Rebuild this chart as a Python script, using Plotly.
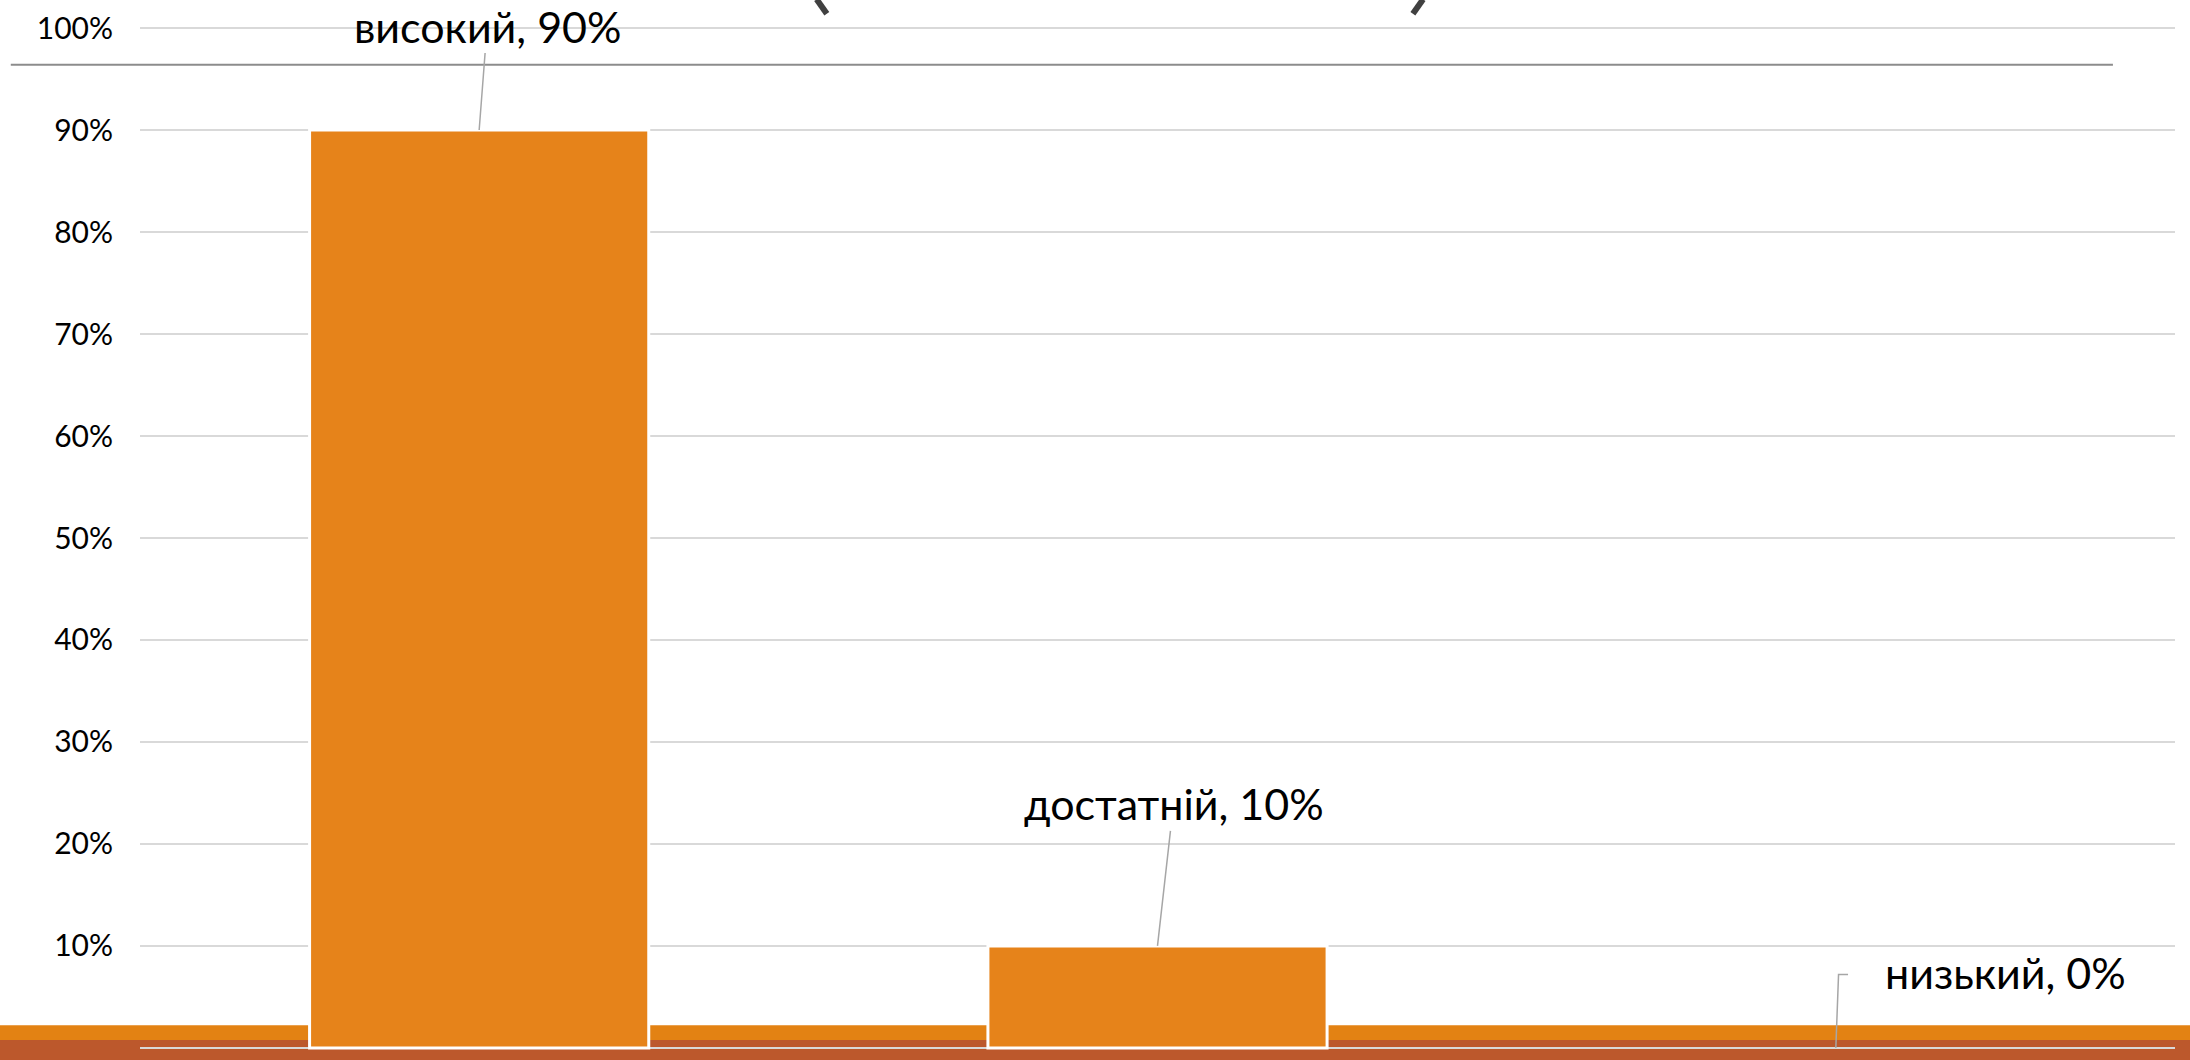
import plotly.graph_objects as go

categories = ["високий", "достатній", "низький"]
values = [0.90, 0.10, 0.00]
tick_vals = [0, 0.1, 0.2, 0.3, 0.4, 0.5, 0.6, 0.7, 0.8, 0.9, 1.0]
tick_text = ["0%", "10%", "20%", "30%", "40%", "50%", "60%", "70%", "80%", "90%", "100%"]

BAR = "#E6831A"
BAND_ORANGE = "#E38213"
BAND_RUST = "#BC582C"
FONT = "Lato"

fig = go.Figure()
fig.add_trace(go.Bar(
    x=categories, y=values,
    marker=dict(color=BAR,
                line=dict(color="white", width=[3 if v > 0 else 0 for v in values])),
    hoverinfo="skip",
))

labels = [f"{c}, {round(v*100)}%" for c, v in zip(categories, values)]

# leader lines + labels for first two bars
offsets = [(8, -104), (16, -142)]
for i in range(2):
    fig.add_annotation(
        x=categories[i], y=values[i], xref="x", yref="y",
        text=labels[i], showarrow=True, arrowhead=0, arrowwidth=1.5,
        arrowcolor="#A6A6A6", ax=offsets[i][0], ay=offsets[i][1],
        font=dict(family=FONT, size=43, color="black"),
    )

# third label with elbow leader
fig.add_annotation(
    x=2, y=values[2], xref="x", yref="y", text=labels[2], showarrow=False,
    xshift=170, yshift=75, font=dict(family=FONT, size=43, color="black"),
)
fig.add_shape(type="path", xref="x", yref="y",
              path=f"M 2,{values[2]} L 2.004,{values[2]+0.072} L 2.018,{values[2]+0.072}",
              line=dict(color="#A6A6A6", width=1.5), layer="above")

# bottom decorative bands (paper coords)
fig.add_shape(type="rect", xref="paper", yref="paper", x0=-0.1, x1=1.1,
              y0=-0.02, y1=0.0252, fillcolor=BAND_ORANGE, line_width=0, layer="below")
fig.add_shape(type="rect", xref="paper", yref="paper", x0=-0.1, x1=1.1,
              y0=-0.03, y1=0.0107, fillcolor=BAND_RUST, line_width=0, layer="below")

# horizontal rule near top
fig.add_shape(type="line", xref="paper", yref="paper", x0=-0.0635, x1=0.9695,
              y0=0.9612, y1=0.9612, line=dict(color="#8C8C8C", width=2), layer="above")

# fragments of cut-off title glyphs at the top
fig.add_shape(type="line", xref="paper", yref="paper", x0=0.3325, x1=0.3375,
              y0=1.025, y1=1.011, line=dict(color="#404040", width=6))
fig.add_shape(type="line", xref="paper", yref="paper", x0=0.6305, x1=0.6255,
              y0=1.025, y1=1.011, line=dict(color="#404040", width=6))

fig.update_layout(
    width=2190, height=1060,
    margin=dict(l=140, r=15, t=20, b=9),
    paper_bgcolor="white", plot_bgcolor="rgba(0,0,0,0)",
    bargap=0.5, showlegend=False,
    xaxis=dict(showticklabels=False, showgrid=False, zeroline=False, showline=False),
    yaxis=dict(range=[-0.003, 1.003], tickvals=tick_vals, ticktext=tick_text,
               showgrid=True, gridcolor="#D9D9D9", gridwidth=2, zeroline=False,
               showline=False, ticks="", ticklabelstandoff=26,
               tickfont=dict(family=FONT, size=30, color="black")),
)

fig.write_html("out.html", config={"displayModeBar": False},
               post_script="document.body.style.margin='0';document.body.style.overflow='hidden';")
